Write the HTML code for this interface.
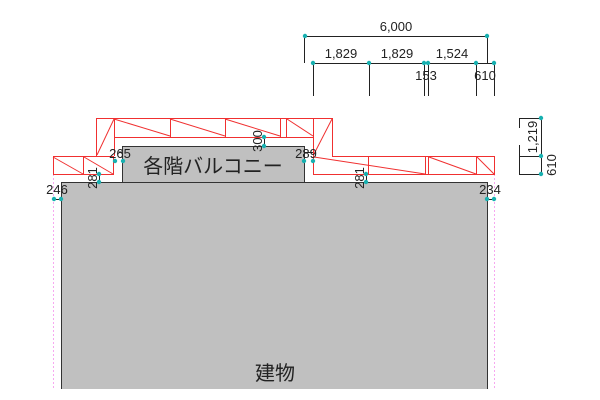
<!DOCTYPE html>
<html><head><meta charset="utf-8"><style>
html,body{margin:0;padding:0;background:#fff;width:600px;height:400px;overflow:hidden}
svg{display:block}
text{font-family:"Liberation Sans","Noto Sans CJK JP",sans-serif;fill:#222}
</style></head><body>
<svg width="600" height="400" viewBox="0 0 600 400" xmlns="http://www.w3.org/2000/svg">
<g stroke="#f7a8f0" stroke-width="1" stroke-dasharray="2,2" fill="none">
<line x1="53.5" y1="174" x2="53.5" y2="389"/>
<line x1="494.5" y1="174" x2="494.5" y2="389"/>
<line x1="53" y1="174.5" x2="113" y2="174.5"/>
<line x1="313" y1="174.5" x2="494" y2="174.5"/>
</g>
<rect x="61" y="182" width="427" height="207" fill="#c0c0c0"/>
<path d="M61.5 389 V182.5 H487.5 V389" fill="none" stroke="#333" stroke-width="1"/>
<rect x="122.5" y="146.5" width="182" height="36" fill="#c0c0c0" stroke="#333" stroke-width="1"/>
<text x="213" y="173" font-size="20" text-anchor="middle">各階バルコニー</text>
<text x="275" y="380" font-size="20" text-anchor="middle">建物</text>
<g stroke="#f03030" stroke-width="1" fill="none">
<rect x="53.5" y="156.5" width="60" height="18"/>
<line x1="83.5" y1="156" x2="83.5" y2="175"/>
<line x1="53" y1="157" x2="83" y2="174"/>
<line x1="84" y1="157" x2="113" y2="174"/>
<path d="M96.5 156 V118.5 H332.5 V156.5 H494.5 V174.5 H313.5 V137.5 H114.5 V156"/>
<line x1="114.5" y1="118" x2="114.5" y2="137"/>
<line x1="170.5" y1="118" x2="170.5" y2="137"/>
<line x1="225.5" y1="118" x2="225.5" y2="137"/>
<line x1="280.5" y1="118" x2="280.5" y2="137"/>
<line x1="286.5" y1="118" x2="286.5" y2="137"/>
<line x1="313.5" y1="118" x2="313.5" y2="137"/>
<line x1="114" y1="119" x2="97" y2="155"/>
<line x1="114" y1="119" x2="170" y2="136"/>
<line x1="170" y1="119" x2="225" y2="136"/>
<line x1="225" y1="119" x2="280" y2="136"/>
<line x1="287" y1="119" x2="313" y2="136"/>
<line x1="332" y1="119" x2="314" y2="154"/>
<line x1="368.5" y1="156" x2="368.5" y2="175"/>
<line x1="425.5" y1="156" x2="425.5" y2="175"/>
<line x1="428.5" y1="156" x2="428.5" y2="175"/>
<line x1="476.5" y1="156" x2="476.5" y2="175"/>
<line x1="314" y1="157" x2="425" y2="174"/>
<line x1="429" y1="157" x2="476" y2="174"/>
<line x1="477" y1="157" x2="494" y2="174"/>
</g>
<g stroke="#222" stroke-width="1" fill="none">
<line x1="305" y1="36.5" x2="487" y2="36.5"/>
<line x1="304.5" y1="36" x2="304.5" y2="63"/>
<line x1="487.5" y1="36" x2="487.5" y2="63"/>
<line x1="313" y1="63.5" x2="494" y2="63.5"/>
<line x1="313.5" y1="63" x2="313.5" y2="96"/>
<line x1="369.5" y1="63" x2="369.5" y2="96"/>
<line x1="424.5" y1="63" x2="424.5" y2="96"/>
<line x1="428.5" y1="63" x2="428.5" y2="96"/>
<line x1="476.5" y1="63" x2="476.5" y2="96"/>
<line x1="494.5" y1="63" x2="494.5" y2="96"/>
<line x1="541.5" y1="118" x2="541.5" y2="174"/>
<line x1="519" y1="118.5" x2="541" y2="118.5"/>
<line x1="519" y1="156.5" x2="541" y2="156.5"/>
<line x1="519" y1="174.5" x2="541" y2="174.5"/>
<line x1="519.5" y1="118" x2="519.5" y2="128"/>
<line x1="519.5" y1="145" x2="519.5" y2="174"/>
<line x1="118.5" y1="152" x2="122" y2="152"/>
<line x1="99.5" y1="174" x2="99.5" y2="182"/>
<line x1="264.5" y1="136" x2="264.5" y2="146"/>
<line x1="304" y1="152.5" x2="313" y2="152.5"/>
<line x1="366.5" y1="174" x2="366.5" y2="182"/>
<line x1="54" y1="199.5" x2="61" y2="199.5"/>
<line x1="488" y1="199.5" x2="494" y2="199.5"/>
</g>
<g font-size="13">
<text x="396" y="31" text-anchor="middle">6,000</text>
<text x="341" y="58" text-anchor="middle">1,829</text>
<text x="397" y="58" text-anchor="middle">1,829</text>
<text x="452" y="58" text-anchor="middle">1,524</text>
<text x="426" y="80" text-anchor="middle">153</text>
<text x="485" y="80" text-anchor="middle">610</text>
<text x="120" y="158" text-anchor="middle">265</text>
<text x="306" y="158" text-anchor="middle">289</text>
<text x="57" y="194" text-anchor="middle">246</text>
<text x="490" y="194" text-anchor="middle">234</text>
<text transform="translate(97,178) rotate(-90)" text-anchor="middle">281</text>
<text transform="translate(364,178) rotate(-90)" text-anchor="middle">281</text>
<text transform="translate(262,141) rotate(-90)" text-anchor="middle">300</text>
<text transform="translate(537,137) rotate(-90)" text-anchor="middle">1,219</text>
<text transform="translate(556,165) rotate(-90)" text-anchor="middle">610</text>
</g>
<g fill="#18b0b0">
<circle cx="305" cy="36" r="2.2"/><circle cx="487" cy="36" r="2.2"/>
<circle cx="313" cy="63" r="2.2"/><circle cx="369" cy="63" r="2.2"/><circle cx="424" cy="63" r="2.2"/><circle cx="428" cy="63" r="2.2"/><circle cx="476" cy="63" r="2.2"/><circle cx="494" cy="63" r="2.2"/>
<circle cx="541" cy="118" r="2.2"/><circle cx="541" cy="156" r="2.2"/><circle cx="541" cy="174" r="2.2"/>
<circle cx="115" cy="161" r="2.2"/><circle cx="123" cy="161" r="2.2"/>
<circle cx="99" cy="174" r="2.2"/><circle cx="99" cy="182" r="2.2"/>
<circle cx="264" cy="137" r="2.2"/><circle cx="264" cy="146" r="2.2"/>
<circle cx="304" cy="161" r="2.2"/><circle cx="313" cy="161" r="2.2"/>
<circle cx="366" cy="174" r="2.2"/><circle cx="366" cy="182" r="2.2"/>
<circle cx="54" cy="199" r="2.2"/><circle cx="61" cy="199" r="2.2"/>
<circle cx="487" cy="199" r="2.2"/><circle cx="494" cy="199" r="2.2"/>
</g>
</svg>
</body></html>
